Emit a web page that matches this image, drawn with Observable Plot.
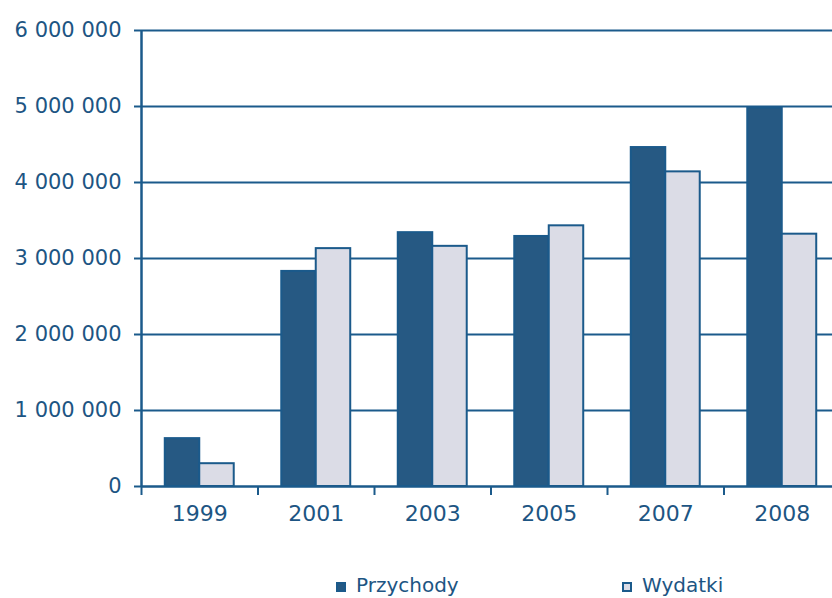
<!DOCTYPE html>
<html>
<head>
<meta charset="utf-8">
<script src="https://cdn.jsdelivr.net/npm/d3@7"></script>
<script src="https://cdn.jsdelivr.net/npm/@observablehq/plot@0.6"></script>
<style>
  html, body { margin: 0; padding: 0; background: #fff; width: 832px; height: 598px; overflow: hidden; }
  #chart { position: absolute; left: 0; top: 0; }
  #legend { position: absolute; left: 0; top: 573px; width: 832px; height: 24px;
    font-family: "DejaVu Sans", sans-serif; font-size: 20px; line-height: 24px; color: #1d5583; }
  .item { position: absolute; top: 0; white-space: nowrap; }
  .sw { display: inline-block; width: 10px; height: 10px; margin-right: 10px; vertical-align: 0px; box-sizing: border-box; }
</style>
</head>
<body>
<div id="chart"></div>
<div id="legend"></div>
<script>
const years = ["1999", "2001", "2003", "2005", "2007", "2008"];
const przychody = [630000, 2830000, 3340000, 3290000, 4460000, 4980000];
const wydatki = [300000, 3130000, 3160000, 3430000, 4140000, 3320000];
const seriesNames = ["Przychody", "Wydatki"];
const yTicks = [0, 1000000, 2000000, 3000000, 4000000, 5000000, 6000000];
const yTickLabels = ["0", "1 000 000", "2 000 000", "3 000 000", "4 000 000", "5 000 000", "6 000 000"];

const blue = "#1b5a8b";
const textColor = "#1d5583";
const darkFill = "#265983";
const lightFill = "#dbdce6";
const barFrac = 0.296; // fraction of a year band per bar

const rows = [];
years.forEach((y, i) => {
  rows.push({year: y, i, series: seriesNames[0], value: przychody[i], x1: i + 0.5 - barFrac, x2: i + 0.5});
  rows.push({year: y, i, series: seriesNames[1], value: wydatki[i], x1: i + 0.5, x2: i + 0.5 + barFrac});
});

const chart = Plot.plot({
  width: 832,
  height: 560,
  marginLeft: 141,
  marginRight: 0,
  marginTop: 30,
  marginBottom: 74,
  style: {fontFamily: "DejaVu Sans, sans-serif", fontSize: "21px", color: textColor, background: "#fff"},
  x: {type: "linear", domain: [0, years.length], range: [141, 141 + 116.5 * years.length]},
  y: {domain: [0, 6000000]},
  color: {domain: seriesNames, range: [darkFill, lightFill]},
  marks: [
    Plot.gridY(yTicks, {stroke: blue, strokeOpacity: 1, strokeWidth: 2}),
    Plot.rectY(rows, {x1: "x1", x2: "x2", y: "value", fill: "series", stroke: blue, strokeWidth: 2}),
    Plot.ruleY([0], {stroke: blue, strokeWidth: 2}),
    Plot.ruleX([0], {stroke: blue, strokeWidth: 2.5}),
    Plot.axisY({ticks: yTicks, tickFormat: (d) => yTickLabels[yTicks.indexOf(d)], tickSize: 7, tickPadding: 13, stroke: blue, strokeWidth: 2, fill: textColor, label: null}),
    Plot.axisX({ticks: d3.range(0, years.length + 1), tickFormat: () => "", tickSize: 9, stroke: blue, strokeWidth: 2, label: null}),
    Plot.axisX({ticks: years.map((_, i) => i + 0.5), tickFormat: (d) => years[Math.round(d - 0.5)], tickSize: 0, tickPadding: 19, fill: textColor, fontSize: 22, label: null})
  ]
});
document.getElementById("chart").appendChild(chart);

const legend = document.getElementById("legend");
const legendItems = [
  {name: seriesNames[0], fill: darkFill, left: 336},
  {name: seriesNames[1], fill: lightFill, left: 622}
];
legendItems.forEach(it => {
  const d = document.createElement("div");
  d.className = "item";
  d.style.left = it.left + "px";
  const sw = document.createElement("span");
  sw.className = "sw";
  sw.style.background = it.fill;
  sw.style.border = "2px solid " + blue;
  d.appendChild(sw);
  d.appendChild(document.createTextNode(it.name));
  legend.appendChild(d);
});
</script>
</body>
</html>
